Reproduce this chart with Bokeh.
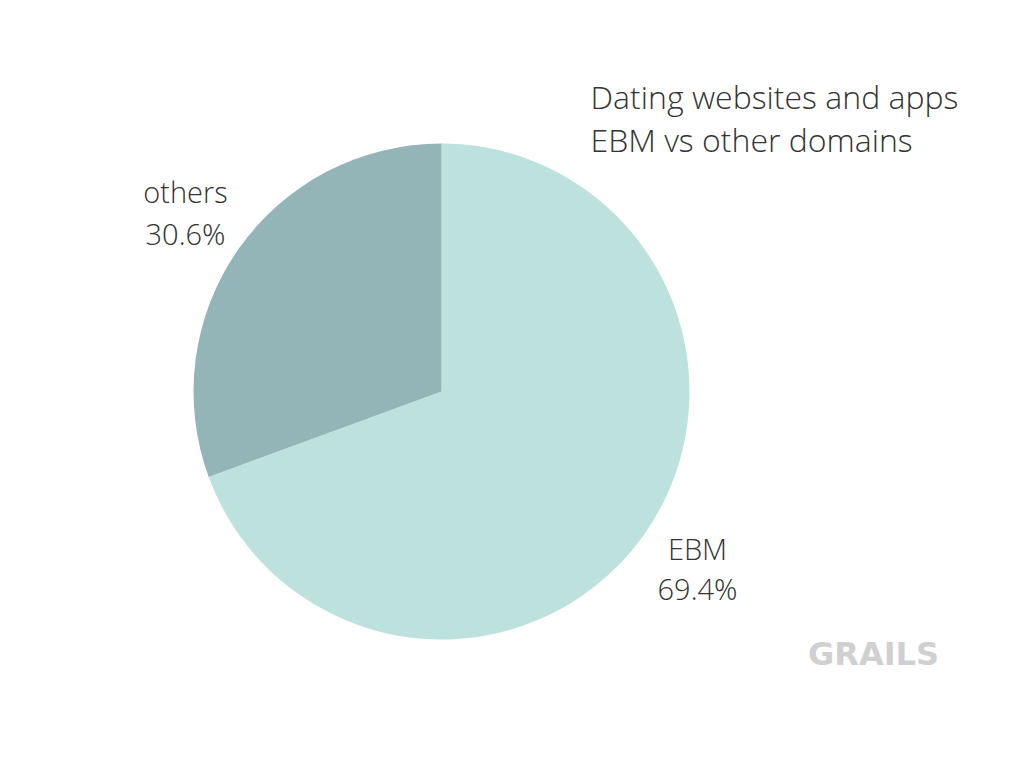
import math
from bokeh.plotting import figure
from bokeh.models import Range1d, ColumnDataSource
from bokeh.core.properties import value
from bokeh.embed import file_html
from bokeh.resources import INLINE

# data
categories = ["EBM", "others"]
shares = [69.4, 30.6]
colors = ["#bde1dd", "#93b5b8"]
title_lines = ["Dating websites and apps", "EBM vs other domains"]
logo_text = "GRAILS"

W, H = 1008, 743
p = figure(width=W, height=H, output_backend="svg", toolbar_location=None,
           x_range=Range1d(0, 1008), y_range=Range1d(16, 759),
           min_border=0, outline_line_color=None, background_fill_color="white",
           border_fill_color="white")
p.axis.visible = False
p.grid.visible = False

def Y(py):
    return 759 - py

cx, cy, r = 441, Y(391), 248

total = sum(shares)
top = math.pi / 2
starts = [top - 2 * math.pi * shares[0] / total, top]
ends = [top, top + 2 * math.pi * shares[1] / total]

src = ColumnDataSource(dict(x=[cx] * 2, y=[cy] * 2, start=starts, end=ends, color=colors))
p.wedge(x="x", y="y", radius=r, start_angle="start", end_angle="end",
        fill_color="color", line_color=None, source=src)

FONT = value("'Open Sans Light', 'Open Sans'")

lab_x = [697, 185]
lab_y1 = [Y(548), Y(191)]
lab_y2 = [Y(588), Y(233)]
p.text(x=lab_x, y=lab_y1, text=categories, text_font=FONT,
       text_font_size="29px", text_color="#333333", text_align="center",
       text_baseline="middle")
p.text(x=lab_x, y=lab_y2, text=[f"{s:.1f}%" for s in shares], text_font=FONT,
       text_font_size="29px", text_color="#333333", text_align="center",
       text_baseline="middle")

p.text(x=[590, 590], y=[Y(96), Y(139)], text=title_lines, text_font=FONT,
       text_font_size="32px", text_color="#333333", text_align="left",
       text_baseline="alphabetic")

p.text(x=[873], y=[Y(653)], text=[logo_text],
       text_font=value("DejaVu Sans"), text_font_style="bold",
       text_font_size="32px", text_color="#d0d0d0", text_align="center",
       text_baseline="middle")

open("out.html", "w").write(file_html(p, INLINE))
